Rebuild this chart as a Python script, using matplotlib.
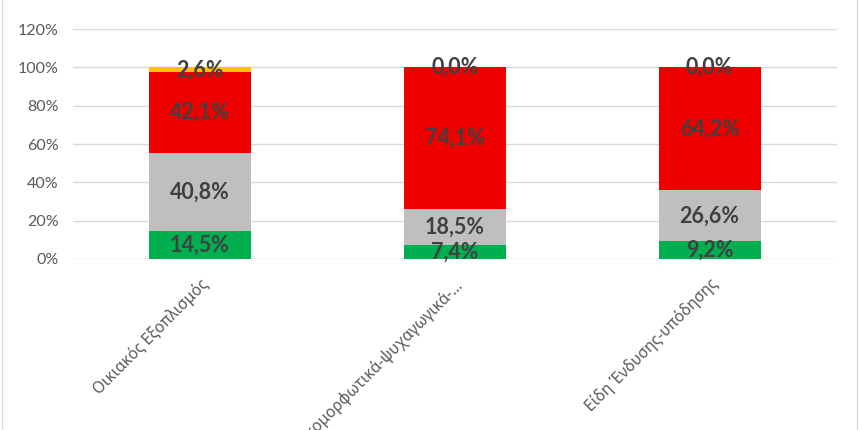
import matplotlib
matplotlib.use("Agg")
import matplotlib.pyplot as plt
from matplotlib.patches import Rectangle
from matplotlib.transforms import ScaledTranslation
import numpy as np

categories = ["Οικιακός Εξοπλισμός",
              "Πολιτιστικομορφωτικά-ψυχαγωγικά-…",
              "Είδη Ένδυσης-υπόδησης"]
green_vals = [14.5, 7.4, 9.2]
gray_vals = [40.8, 18.5, 26.6]
red_vals = [42.1, 74.1, 64.2]
yellow_vals = [2.6, 0.0, 0.0]
y_ticks = [0, 20, 40, 60, 80, 100, 120]

series = [(green_vals, "#00B050"), (gray_vals, "#BFBFBF"),
          (red_vals, "#EE0000"), (yellow_vals, "#FFC000")]

plt.rcParams['font.family'] = ['Noto Sans', 'DejaVu Sans']

fig = plt.figure(figsize=(8.6, 4.3), dpi=100)
ax = fig.add_axes([72.5/860, 171/430, (837-72.5)/860, 230/430])

x = np.arange(len(categories))
bottom = np.zeros(len(categories))
for vals, col in series:
    v = np.array(vals)
    bars = ax.bar(x, v, width=0.4, bottom=bottom, color=col, zorder=3)
    ax.bar_label(bars, labels=[f"{a:.1f}%".replace('.', ',') for a in v],
                 label_type='center', fontsize=15.5, fontweight='bold',
                 family=['Lato', 'Liberation Sans'],
                 color='#404040', zorder=4)
    bottom += v

ax.set_xlim(-0.5, len(categories) - 0.5)
ax.set_ylim(0, 120)
ax.set_yticks(y_ticks)
ax.set_yticklabels([f"{t}%" for t in y_ticks], fontsize=11.5, color='#595959',
                   family=['Lato', 'Noto Sans'])
ax.set_xticks(x)
ax.set_xticklabels(categories, rotation=45, ha='right', va='top',
                   rotation_mode='anchor', fontsize=11.2, color='#595959')
off = ScaledTranslation(-8/100, 0, fig.dpi_scale_trans)
for lab in ax.get_xticklabels():
    lab.set_transform(lab.get_transform() + off)
ax.tick_params(axis='both', length=0)
ax.tick_params(axis='y', pad=10)
ax.tick_params(axis='x', pad=12)
ax.grid(axis='y', color='#D9D9D9', linewidth=1, zorder=0)
for s in ax.spines.values():
    s.set_visible(False)

fig.patches.append(Rectangle((1.5/860, -0.1), (857 - 1.5)/860, 1.2,
                             transform=fig.transFigure, fill=False,
                             edgecolor='#D9D9D9', linewidth=1))

fig.savefig("out.png", dpi=100)
